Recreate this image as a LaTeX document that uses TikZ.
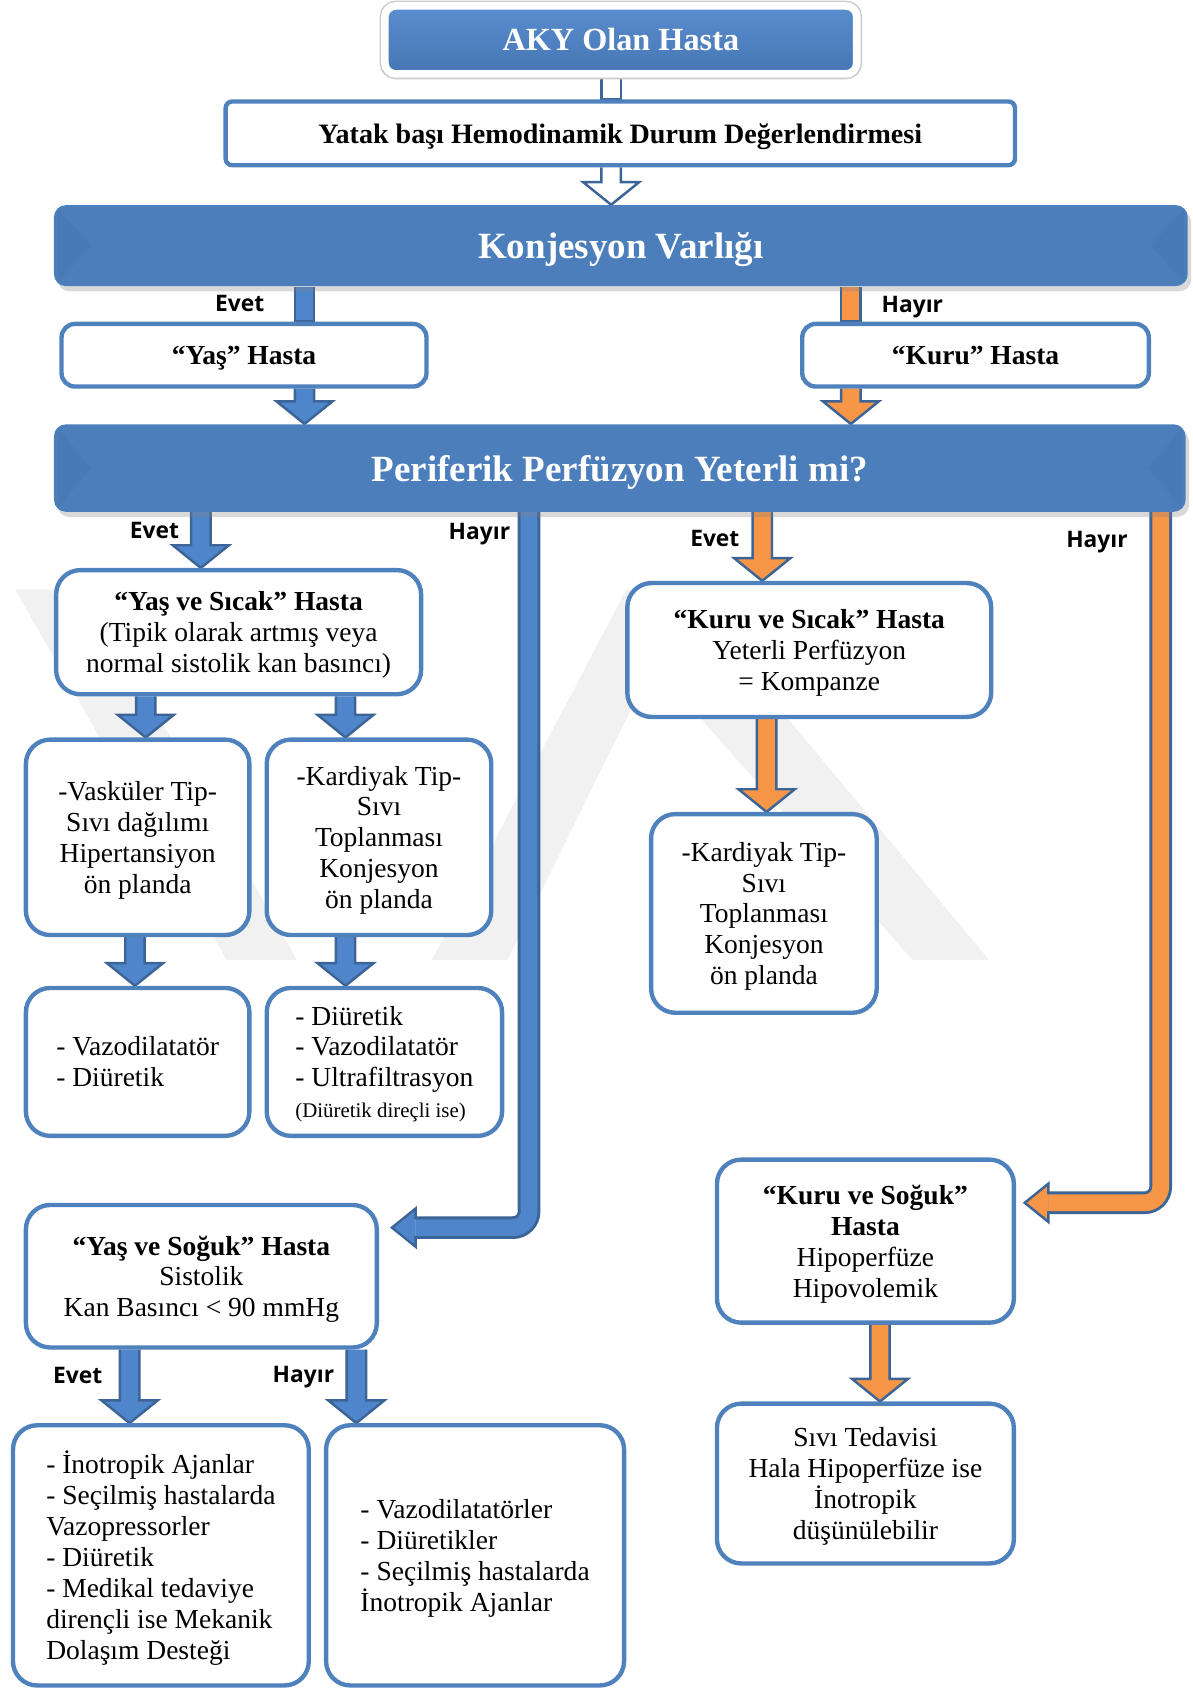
\documentclass[tikz,border=0pt]{standalone}
\usepackage{fontspec}
\setmainfont{Liberation Serif}
\newfontfamily\labelfont{Open Sans}
\usetikzlibrary{calc,shadows,backgrounds}

\definecolor{boxblue}{HTML}{4F81BD}
\definecolor{arrowline}{HTML}{3C6496}
\definecolor{flowblue}{HTML}{4F86CB}
\definecolor{floworange}{HTML}{F79646}
\definecolor{bannertop}{HTML}{A8CCF4}
\definecolor{bannermid}{HTML}{6C9AD6}
\definecolor{bannerblue}{HTML}{4C7EBB}
\definecolor{bannerdark}{HTML}{2F5A8E}
\definecolor{akytop}{HTML}{5A8DCF}
\definecolor{akyblue}{HTML}{4676B3}
\definecolor{wmgray}{HTML}{F1F1F1}

\pgfdeclareverticalshading{bannershade}{100bp}{color(0bp)=(bannerblue); color(80bp)=(bannerblue); color(92bp)=(bannermid); color(100bp)=(bannertop)}

\tikzset{
  box/.style={draw=boxblue, line width=2.3pt, fill=white, rounded corners=0.45cm, align=center, inner sep=0pt, text depth=0pt, font=\fontsize{14.5}{16.3}\selectfont},
  aky/.style={draw=white, line width=4pt, rounded corners=0.2cm, top color=akytop, bottom color=akyblue, text=white, font=\fontsize{17}{20}\selectfont\bfseries, preaction={draw=black!20, line width=5.6pt}, drop shadow={opacity=0.3, shadow xshift=0pt, shadow yshift=-1pt, shadow scale=1.015}},
  banner/.style={shading=bannershade, rounded corners=0.22cm, text=white, text depth=0pt, font=\fontsize{19.5}{22}\selectfont\bfseries, drop shadow={opacity=0.3, shadow xshift=0.4ex, shadow yshift=-0.6ex}},
  answer/.style={font=\labelfont\bfseries\fontsize{12}{14}\selectfont},
  flowline/.style={draw=arrowline, line width=1.3pt, line join=miter}
}

% block arrow straight down: fill, top point, tip point
\newcommand{\flowarrow}[3][flowblue]{%
  \draw[flowline, fill=#1] let \p1=(#2), \p2=(#3) in
    (\x1-0.18cm,\y1) -- (\x1-0.18cm,\y2+0.42cm) -- (\x1-0.52cm,\y2+0.42cm) -- (\x1,\y2)
    -- (\x1+0.52cm,\y2+0.42cm) -- (\x1+0.18cm,\y2+0.42cm) -- (\x1+0.18cm,\y1);}
\newcommand{\flowshaft}[3][flowblue]{%
  \draw[flowline, fill=#1] let \p1=(#2), \p2=(#3) in
    (\x1-0.18cm,\y1) -- (\x1-0.18cm,\y2) -- (\x1+0.18cm,\y2) -- (\x1+0.18cm,\y1);}

\begin{document}
\begin{tikzpicture}
\useasboundingbox (0,0) rectangle (22.08,-31.36);

% top
\node[aky, minimum width=8.74cm, minimum height=1.26cm] (aky) at (11.5,-0.74) {AKY Olan Hasta};
\node[box, rounded corners=0.12cm, minimum width=14.62cm, minimum height=1.18cm, font=\fontsize{14.8}{17}\selectfont\bfseries] (yatak) at (11.49,-2.47) {Yatak başı Hemodinamik Durum Değerlendirmesi};
\node[banner, minimum width=21cm, minimum height=1.5cm] (kon) at (11.5,-4.55) {Konjesyon Varlığı};
\node[box, rounded corners=0.25cm, minimum width=6.76cm, minimum height=1.16cm] (yas) at (4.52,-6.58) {\textbf{“Yaş” Hasta}};
\node[box, rounded corners=0.25cm, minimum width=6.42cm, minimum height=1.16cm] (kuru) at (18.07,-6.58) {\textbf{“Kuru” Hasta}};
\node[banner, minimum width=20.96cm, minimum height=1.62cm] (per) at (11.48,-8.67) {Periferik Perfüzyon Yeterli mi?};

% bevels of the banners
\foreach \b in {kon,per}{
  \fill[bannerdark, opacity=0.1] ([shift={(0.08,-0.08)}]\b.north west) -- ([xshift=0.7cm]\b.west) -- ([shift={(0.08,0.08)}]\b.south west) -- cycle;
  \fill[bannerdark, opacity=0.1] ([shift={(-0.08,-0.08)}]\b.north east) -- ([xshift=-0.7cm]\b.east) -- ([shift={(-0.08,0.08)}]\b.south east) -- cycle;
}

% wet side
\node[box, minimum width=6.76cm, minimum height=2.3cm] (yassicak) at (4.42,-11.71) {\textbf{“Yaş ve Sıcak” Hasta}\\(Tipik olarak artmış veya\\normal sistolik kan basıncı)};
\node[box, minimum width=4.14cm, minimum height=3.62cm] (vaskuler) at (2.55,-15.51) {-Vasküler Tip-\\Sıvı dağılımı\\Hipertansiyon\\ön planda};
\node[box, minimum width=4.16cm, minimum height=3.62cm] (kardiyakL) at (7.02,-15.51) {-Kardiyak Tip-\\Sıvı\\Toplanması\\Konjesyon\\ön planda};
\node[box, align=left, minimum width=4.14cm, minimum height=2.74cm] (vazo) at (2.55,-19.67) {- Vazodilatatör\\- Diüretik};
\node[box, align=left, minimum width=4.36cm, minimum height=2.74cm] (diuretik) at (7.12,-19.67) {- Diüretik\\- Vazodilatatör\\- Ultrafiltrasyon\\{\fontsize{11}{12}\selectfont(Diüretik direçli ise)}};
\node[box, minimum width=6.5cm, minimum height=2.64cm] (yassoguk) at (3.73,-23.64) {\textbf{“Yaş ve Soğuk” Hasta}\\Sistolik\\Kan Basıncı < 90 mmHg};
\node[box, align=left, minimum width=5.48cm, minimum height=4.82cm] (inotropik) at (2.98,-28.81) {- İnotropik Ajanlar\\- Seçilmiş hastalarda\\Vazopressorler\\- Diüretik\\- Medikal tedaviye\\dirençli ise Mekanik\\Dolaşım Desteği};
\node[box, align=left, minimum width=5.52cm, minimum height=4.82cm] (vazolar) at (8.8,-28.81) {- Vazodilatatörler\\- Diüretikler\\- Seçilmiş hastalarda\\İnotropik Ajanlar};

% dry side
\node[box, minimum width=6.74cm, minimum height=2.48cm] (kurusicak) at (14.99,-12.04) {\textbf{“Kuru ve Sıcak” Hasta}\\Yeterli Perfüzyon\\= Kompanze};
\node[box, minimum width=4.18cm, minimum height=3.68cm] (kardiyakR) at (14.15,-16.92) {-Kardiyak Tip-\\Sıvı\\Toplanması\\Konjesyon\\ön planda};
\node[box, minimum width=5.5cm, minimum height=3.02cm] (kurusoguk) at (16.03,-22.99) {\textbf{“Kuru ve Soğuk”}\\\textbf{Hasta}\\Hipoperfüze\\Hipovolemik};
\node[box, minimum width=5.5cm, minimum height=2.96cm] (sivi) at (16.03,-27.48) {Sıvı Tedavisi\\Hala Hipoperfüze ise\\İnotropik\\düşünülebilir};

% answers
\node[answer] (evet1) at (4.44,-5.62) {Evet};
\node[answer] (hayir1) at (16.9,-5.68) {Hayır};
\node[answer] (evet2) at (2.86,-9.82) {Evet};
\node[answer] (hayir2) at (8.88,-9.9) {Hayır};
\node[answer] (evet3) at (13.24,-9.98) {Evet};
\node[answer] (hayir3) at (20.32,-10.04) {Hayır};
\node[answer] (evet4) at (1.44,-25.48) {Evet};
\node[answer] (hayir4) at (5.62,-25.5) {Hayır};

\coordinate (wctip) at ($(yassoguk.north east)+(0.24,-0.46)$);
\coordinate (dctip) at ($(kurusoguk.north east)+(0.16,-0.84)$);

\begin{scope}[on background layer]
% watermark
\fill[wmgray] (0.28,-10.92) -- (1.6,-10.92) -- (5.5,-17.78) -- (4.2,-17.78) -- cycle;
\fill[wmgray] (8.0,-17.78) -- (11.6,-10.92) -- (12.6,-10.92) -- (18.32,-17.78) -- (16.9,-17.78) -- (12.1,-12.3) -- (9.4,-17.78) -- cycle;

% arrows
\flowshaft[white]{11.32,0 |- aky.south}{11.32,0 |- yatak.north}
\flowarrow[white]{11.32,0 |- yatak.south}{11.32,0 |- kon.north}
\flowshaft{5.64,0 |- kon.south}{5.64,0 |- yas.north}
\flowshaft[floworange]{15.76,0 |- kon.south}{15.76,0 |- kuru.north}
\flowarrow{5.64,0 |- yas.south}{5.64,0 |- per.north}
\flowarrow[floworange]{15.76,0 |- kuru.south}{15.76,0 |- per.north}
\flowarrow{3.72,0 |- per.south}{3.72,0 |- yassicak.north}
\flowarrow[floworange]{14.12,0 |- per.south}{14.12,0 |- kurusicak.north}
\flowarrow{2.7,0 |- yassicak.south}{2.7,0 |- vaskuler.north}
\flowarrow{6.4,0 |- yassicak.south}{6.4,0 |- kardiyakL.north}
\flowarrow{2.5,0 |- vaskuler.south}{2.5,0 |- vazo.north}
\flowarrow{6.4,0 |- kardiyakL.south}{6.4,0 |- diuretik.north}
\flowarrow[floworange]{14.2,0 |- kurusicak.south}{14.2,0 |- kardiyakR.north}
\flowarrow{2.4,0 |- yassoguk.south}{2.4,0 |- inotropik.north}
\flowarrow{6.6,0 |- yassoguk.south}{6.6,0 |- vazolar.north}
\flowarrow[floworange]{16.3,0 |- kurusoguk.south}{16.3,0 |- sivi.north}

% bent arrows
\draw[arrowline, line width=0.42cm, rounded corners=0.3cm] (9.8,0 |- per.south) |- ($(wctip)+(0.44,0)$);
\draw[flowblue, line width=0.31cm, rounded corners=0.3cm] (9.8,0 |- per.south) |- ($(wctip)+(0.44,0)$);
\draw[flowline, fill=flowblue] ($(wctip)+(0.44,0.155)$) -- ++(0,0.2) -- (wctip) -- ($(wctip)+(0.44,-0.355)$) -- ++(0,0.2);
\draw[arrowline, line width=0.42cm, rounded corners=0.3cm] (21.5,0 |- per.south) |- ($(dctip)+(0.44,0)$);
\draw[floworange, line width=0.31cm, rounded corners=0.3cm] (21.5,0 |- per.south) |- ($(dctip)+(0.44,0)$);
\draw[flowline, fill=floworange] ($(dctip)+(0.44,0.155)$) -- ++(0,0.2) -- (dctip) -- ($(dctip)+(0.44,-0.355)$) -- ++(0,0.2);
\end{scope}
\end{tikzpicture}
\end{document}
